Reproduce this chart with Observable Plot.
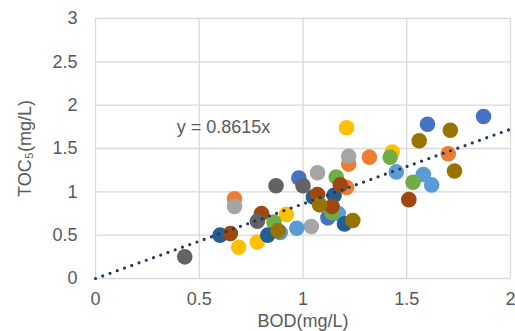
<!DOCTYPE html>
<html><head><meta charset="utf-8">
<script src="https://cdn.jsdelivr.net/npm/d3@7"></script>
<script src="https://cdn.jsdelivr.net/npm/@observablehq/plot@0.6"></script>
<style>body{margin:0;background:#fff;}</style>
</head><body><div id="chart"></div>
<script>
// Series points [BOD, TOC5] (mg/L)
const seriesBlue      = [[0.98,1.16],[1.12,0.70],[1.60,1.78],[1.87,1.87]];
const seriesOrange    = [[0.67,0.92],[1.22,1.32],[1.21,1.05],[1.32,1.40],[1.70,1.44]];
const seriesGray      = [[0.67,0.83],[1.07,1.22],[1.22,1.41],[1.04,0.60]];
const seriesYellow    = [[0.69,0.36],[0.78,0.42],[0.92,0.74],[1.21,1.74],[1.43,1.46]];
const seriesLightBlue = [[0.89,0.53],[0.97,0.58],[1.17,0.75],[1.45,1.23],[1.58,1.20],[1.62,1.08]];
const seriesGreen     = [[0.86,0.65],[1.16,1.17],[1.14,0.76],[1.42,1.40],[1.53,1.11]];
const seriesDarkBlue  = [[0.60,0.50],[0.83,0.50],[1.05,0.94],[1.15,0.96],[1.20,0.63]];
const seriesBrown     = [[0.65,0.52],[0.80,0.75],[1.07,0.97],[1.18,1.08],[1.14,0.83],[1.51,0.91]];
const seriesDarkGray  = [[0.43,0.25],[0.78,0.66],[0.87,1.07],[1.00,1.07]];
const seriesOlive     = [[0.88,0.55],[1.08,0.85],[1.24,0.67],[1.56,1.59],[1.71,1.71],[1.73,1.24]];

const seriesList   = [seriesBlue, seriesOrange, seriesGray, seriesYellow, seriesLightBlue, seriesGreen, seriesDarkBlue, seriesBrown, seriesDarkGray, seriesOlive];
const seriesColors = ["#4472C4","#ED7D31","#A5A5A5","#FFC000","#5B9BD5","#70AD47","#255E91","#9E480E","#636363","#997300"];

const xTicks = [0, 0.5, 1, 1.5, 2];
const yTicks = [0, 0.5, 1, 1.5, 2, 2.5, 3];
const slope = 0.8615;
const trendX = [0, 2];
const trendLabel = "y = 0.8615x";

const points = seriesList.flatMap((s, i) => s.map(([x, y]) => ({x, y, color: seriesColors[i]})));
const trend = trendX.map(x => ({x, y: slope * x}));

const chart = Plot.plot({
  width: 515, height: 331,
  marginLeft: 95, marginRight: 5, marginTop: 18, marginBottom: 53,
  style: {fontFamily: "Liberation Sans, Arial, sans-serif", fontSize: "18px", color: "#595959", background: "#fff"},
  x: {domain: [0, 2]},
  y: {domain: [0, 3]},
  marks: [
    Plot.ruleX(xTicks, {stroke: "#D9D9D9", strokeWidth: 1.3}),
    Plot.ruleY(yTicks, {stroke: "#D9D9D9", strokeWidth: 1.3}),
    Plot.axisX({ticks: xTicks, tickSize: 0, tickPadding: 14, tickFormat: d => String(d), label: "BOD(mg/L)", labelAnchor: "center", labelArrow: "none", labelOffset: 48, fill: "#595959"}),
    Plot.axisY({ticks: yTicks, tickSize: 0, tickPadding: 18, tickFormat: d => String(d), label: "TOC₅(mg/L)", labelAnchor: "center", labelArrow: "none", labelOffset: 77, fill: "#595959"}),
    Plot.dot(points, {x: "x", y: "y", r: 7.8, fill: d => d.color, stroke: null}),
    Plot.line(trend, {x: "x", y: "y", stroke: "#203864", strokeWidth: 3.2, strokeDasharray: "0 7.7", strokeLinecap: "round"}),
    Plot.text([trendLabel], {x: 0.617, y: 1.74, text: d => d, fontSize: 18, fill: "#595959"})
  ]
});
document.getElementById("chart").appendChild(chart);
</script>
</body></html>
